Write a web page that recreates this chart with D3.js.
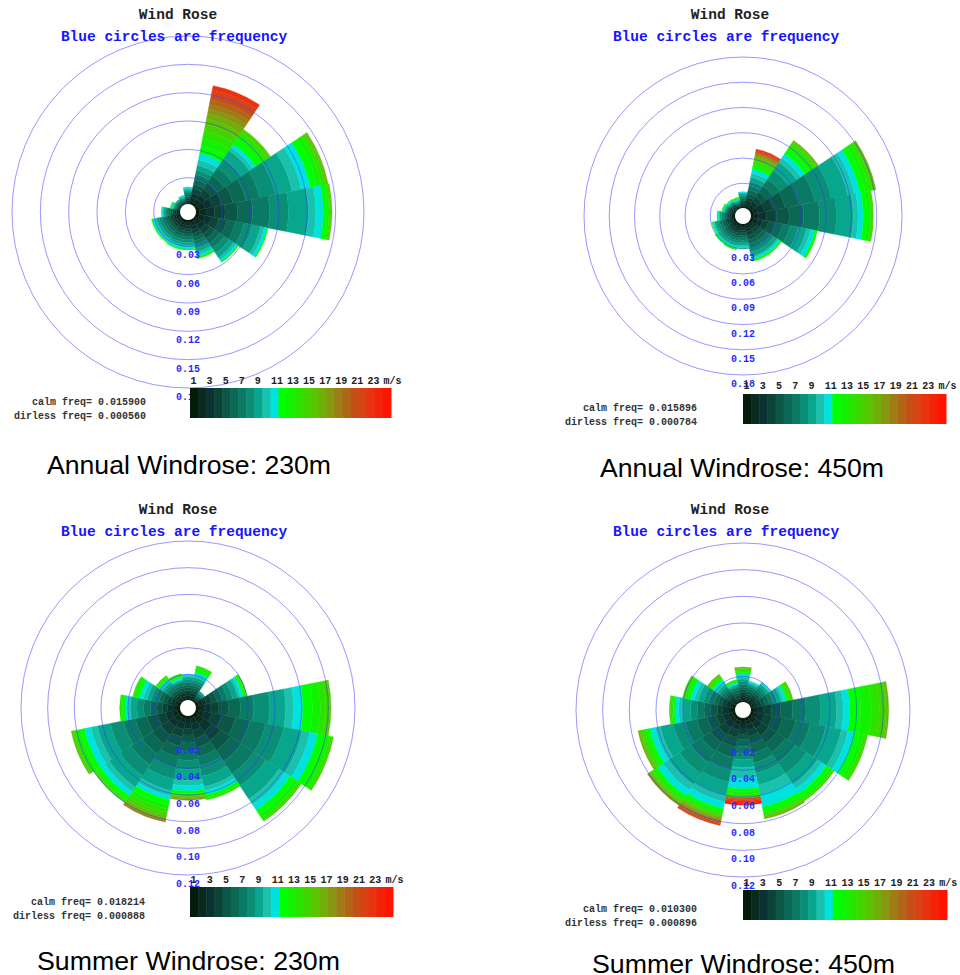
<!DOCTYPE html>
<html><head><meta charset="utf-8">
<script src="https://cdn.jsdelivr.net/npm/d3@7"></script>
<style>body{margin:0;background:#fff}svg{display:block}</style>
</head><body>
<svg id="c" width="960" height="975"></svg>
<script>
// ---------------- DATA ----------------
const directions = ["N","NNE","NE","ENE","E","ESE","SE","SSE","S","SSW","SW","WSW","W","WNW","NW","NNW"];
const speedBins = ["1","2","3","4","5","6","7","8","9","10","11","12","13","14","15","16","17","18","19","20","21","22","23","24","25"];
const speedTickLabels = ["1","3","5","7","9","11","13","15","17","19","21","23","m/s"];
const speedTickBins   = ["1","3","5","7","9","11","13","15","17","19","21","23","25"];
const binColors = ["#021c0a","#0a2a1e","#0a3232","#0b4436","#0b5646","#0a6854","#0a7a64","#0b8e76","#08a68c","#1ac2ae","#00e2de",
  "#00ff00","#12f200","#2ae400","#42d400","#5ac402","#70ae08","#889610","#9c7e14","#b06616","#c45016","#d84214","#e83210","#f42208","#ff1400"];

// frequencies per direction, per speed bin, in thousandths (0.001)
const annual230 = [
  [2,2,2,2,2,2,2,2,1,2,1],
  [5,4,5,5,5,5,5,5,5,6,7,8,8,8,7,6,6,5,5,5,5,5,5],
  [5,5,6,7,8,9,10,11,11,4,4,6,5,4,3,1],
  [6,6,8,10,12,14,15,17,18,10,10,7,5,3,2,1,1],
  [6,7,9,11,13,16,18,20,21,8,8,4,2,1,1,1],
  [6,6,7,8,9,9,9,9,9,4,3,1],
  [5,5,6,6,6,6,6,6,6,3,2,1],
  [5,4,4,4,4,4,4,4,4,3,2,1,1],
  [5,3,3,3,3,3,3,3,3,2,2,1],
  [5,3,3,3,3,3,3,3,3,2,2,1],
  [4,3,3,3,3,3,3,3,3,2,2,1],
  [4,3,3,3,3,3,3,3,3,2,2,1],
  [4,2,2,2,2,2,2,2,2,1,1],
  [2,1,1,1,1,1,1,1,1,1,1,1],
  [2,1,1,1,1,1,1,1,1],
  [2,1,1,1,1,1,1,1,1,1,1]
];
const annual450 = [
  [2,2,2,2,2,2,2,2,2,1,1],
  [3,3,4,4,4,5,5,5,5,5,5,3,3,3,3,2,2,2,1,1,1,1,2],
  [3,4,5,6,7,9,10,12,12,6,6,6,5,4,2,1,1],
  [4,5,8,11,14,17,19,20,20,8,7,6,5,4,2,1,1],
  [4,6,9,12,15,17,19,20,20,6,6,5,4,2,1],
  [4,5,6,7,8,9,9,10,10,5,5,2,1],
  [3,3,4,5,5,5,5,5,5,2,2,1,1],
  [3,3,4,5,5,5,5,5,5,2,2,1,1],
  [3,2,3,3,3,3,3,3,3,2,1,1],
  [3,3,3,3,3,3,3,3,3,2,1,1,1],
  [3,3,3,3,3,3,3,3,3,2,1,1],
  [3,2,3,3,3,3,3,3,3,1,1,1],
  [3,2,2,2,2,2,2,2,2,1,1,1],
  [2,2,2,2,2,1,1,1,1,1,1,1],
  [2,1,2,2,1,1,1,1,1,1,1,1],
  [2,1,1,1,1,1,1,1,1,1,1,1,1]
];
const summer230 = [
  [2,2,2,2,2,2,2,2,2,1,1],
  [2,2,2,2,2,2,2,2,2,2,2,2,2,1],
  [2,1,1,1,1,1,1,1,1],
  [3,3,3,4,4,4,4,4,4,2,2,1,1,1],
  [3,4,5,6,7,9,10,12,12,6,7,7,6,4,3,1],
  [3,4,6,8,10,11,12,14,14,6,6,5,4,2,1],
  [4,5,7,8,9,10,11,11,12,5,5,4,3,2,1],
  [3,4,5,6,7,7,7,8,8,3,3,2,1,1],
  [3,3,4,5,6,6,7,7,8,4,4,2,1,1,0,1,1,1],
  [3,3,5,6,7,8,8,9,9,4,3,4,3,3,2,2,1,1,1],
  [3,4,5,7,8,9,10,10,10,4,4,2,2,1,1],
  [3,4,5,6,8,9,9,10,10,5,5,3,3,2,1,1],
  [3,3,4,4,4,5,5,5,5,2,2,2,1,1],
  [3,2,3,3,3,3,3,3,3,3,3,2,2,1],
  [2,2,2,2,2,2,2,2,2,2,1,1,1,1],
  [2,2,2,2,2,2,2,1,1,1,1,1,1,1]
];
const summer450 = [
  [2,2,2,2,2,2,2,2,2,2,2,1,1,1,1,1],
  [2,1,2,2,2,2,2,1,1,1,1],
  [2,2,2,2,2,2,2,2,2,1,1],
  [2,2,2,3,3,3,3,3,3,2,2,1,1,1,1,1],
  [3,3,4,6,7,9,10,11,12,5,5,8,8,6,5,1,1],
  [3,3,5,6,8,10,11,12,12,5,5,4,3,2,1],
  [3,4,5,6,7,8,9,10,10,4,4,3,2,1,1],
  [3,3,4,5,6,7,7,8,9,8,9,3,2,1,1,1,1],
  [3,3,3,4,4,5,5,5,6,8,8,2,2,2,1,0,0,0,0,0,1,1,1,1,1],
  [3,3,4,6,7,8,9,10,10,5,5,2,2,1,1,1,1,1,1,1,1,1],
  [3,3,5,6,7,8,10,10,10,5,5,2,2,1,1,1,1,1],
  [3,3,4,5,7,8,9,9,10,4,4,2,2,2,1,1,1],
  [3,3,4,4,5,5,5,5,6,3,3,1,1,1,1],
  [3,2,3,3,3,3,4,4,4,3,3,2,2,1,1],
  [2,2,2,2,2,2,2,2,2,2,2,1,1,1,1,1],
  [2,1,1,2,2,2,2,1,1,1,1,1,1]
];
const ringTicksAnnual = [0.03,0.06,0.09,0.12,0.15,0.18];
const ringTicksSummer = [0.02,0.04,0.06,0.08,0.10,0.12];
const calmFreq    = ["0.015900","0.015896","0.018214","0.010300"];
const dirlessFreq = ["0.000560","0.000784","0.000888","0.000896"];
const captions = ["Annual Windrose: 230m","Annual Windrose: 450m","Summer Windrose: 230m","Summer Windrose: 450m"];

// ---------------- LAYOUT ----------------
const panels = [
  {data:annual230, ticks:ringTicksAnnual, cx:188, cy:212, r0:6, rMax:176, tx:178, ty:19,
   barX:190, barW:201, barY:388, lblY:384, calmX:146, calmY:405, capX:189, capY:474, capW:284},
  {data:annual450, ticks:ringTicksAnnual, cx:743, cy:216, r0:7.5, rMax:159, tx:730, ty:19,
   barX:743, barW:203, barY:394, lblY:389, calmX:697, calmY:411, capX:742, capY:477, capW:284},
  {data:summer230, ticks:ringTicksSummer, cx:188, cy:708, r0:7, rMax:167, tx:178, ty:514,
   barX:190, barW:203, barY:887, lblY:883, calmX:145, calmY:905, capX:188.5, capY:970, capW:303},
  {data:summer450, ticks:ringTicksSummer, cx:743, cy:710, r0:7, rMax:167, tx:730, ty:514,
   barX:743, barW:204, barY:890, lblY:886, calmX:697, calmY:912, capX:743.5, capY:973, capW:303}
];

const svg = d3.select("#c");
const mono = "'Liberation Mono','DejaVu Sans Mono',monospace";

panels.forEach((p, pi) => {
  const g = svg.append("g");
  const maxT = p.ticks[p.ticks.length-1];
  const r = d3.scaleLinear().domain([0, maxT]).range([p.r0, p.rMax]);
  const step = 2*Math.PI/directions.length;
  const ang = d3.scaleBand().domain(directions).range([-step/2, 2*Math.PI - step/2]).padding(0);
  const color = d3.scaleOrdinal().domain(speedBins).range(binColors);
  const arc = d3.arc();
  const rose = g.append("g").attr("transform", `translate(${p.cx},${p.cy})`);

  p.data.forEach((bins, di) => {
    let cum = 0;
    const segs = bins.map((v, b) => { const s = {a:cum, b:cum + v/1000, bin:speedBins[b]}; cum = s.b; return s; });
    rose.selectAll(null).data(segs.filter(s => s.b > s.a)).join("path")
      .attr("d", s => arc({innerRadius:r(s.a), outerRadius:r(s.b), startAngle:ang(directions[di]), endAngle:ang(directions[di]) + ang.bandwidth()}))
      .attr("fill", s => color(s.bin))
      .attr("stroke", s => color(s.bin)).attr("stroke-width", 0.4);
  });

  // frequency rings
  rose.selectAll(null).data(p.ticks).join("circle")
    .attr("r", d => r(d)).attr("fill", "none")
    .attr("stroke", "rgba(50,50,255,0.5)").attr("stroke-width", 1);
  // central hole
  rose.append("circle").attr("r", 8).attr("fill", "#fff");
  // ring labels
  rose.selectAll(null).data(p.ticks).join("text")
    .attr("x", 0).attr("y", d => r(d) + 12)
    .attr("text-anchor", "middle")
    .attr("font-family", mono).attr("font-size", 10).attr("font-weight", "bold")
    .attr("fill", "#2b2bff").text(d => d3.format(".2f")(d));

  // titles
  g.append("text").attr("x", p.tx).attr("y", p.ty).attr("text-anchor", "middle")
    .attr("font-family", mono).attr("font-size", 14.5).attr("font-weight", "bold")
    .attr("fill", "#222").text("Wind Rose");
  g.append("text").attr("x", p.tx - 4).attr("y", p.ty + 22).attr("text-anchor", "middle")
    .attr("font-family", mono).attr("font-size", 14.5).attr("font-weight", "bold")
    .attr("fill", "#1515ff").text("Blue circles are frequency");

  // colour bar legend
  const xb = d3.scaleBand().domain(speedBins).range([p.barX, p.barX + p.barW]);
  g.selectAll(null).data(speedBins).join("rect")
    .attr("x", d => xb(d)).attr("y", p.barY).attr("width", xb.bandwidth() + 0.5).attr("height", 30)
    .attr("fill", d => color(d));
  g.selectAll(null).data(speedTickBins).join("text")
    .attr("x", d => xb(d) + 0.5).attr("y", p.lblY)
    .attr("font-family", mono).attr("font-size", 10).attr("font-weight", "bold")
    .attr("fill", "#222").text((d, i) => speedTickLabels[i]);

  // calm / dirless
  g.append("text").attr("x", p.calmX).attr("y", p.calmY).attr("text-anchor", "end")
    .attr("font-family", mono).attr("font-size", 10).attr("font-weight", "bold")
    .attr("fill", "#333").text("calm freq= " + calmFreq[pi]);
  g.append("text").attr("x", p.calmX).attr("y", p.calmY + 14).attr("text-anchor", "end")
    .attr("font-family", mono).attr("font-size", 10).attr("font-weight", "bold")
    .attr("fill", "#333").text("dirless freq= " + dirlessFreq[pi]);

  // caption
  svg.append("text").attr("x", p.capX).attr("y", p.capY).attr("text-anchor", "middle")
    .attr("font-family", "'Liberation Sans',Arial,sans-serif").attr("font-size", 25)
    .attr("textLength", p.capW).attr("lengthAdjust", "spacingAndGlyphs")
    .attr("fill", "#000").text(captions[pi]);
});
</script>
</body></html>
